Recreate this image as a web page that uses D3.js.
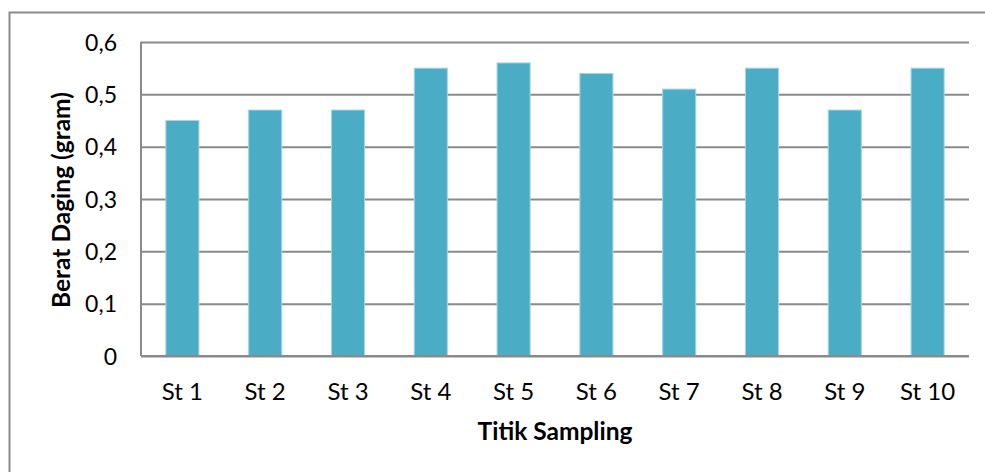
<!DOCTYPE html>
<html>
<head>
<meta charset="utf-8">
<script src="https://cdn.jsdelivr.net/npm/d3@7"></script>
<style>
  html, body { margin: 0; padding: 0; background: #fff; }
  svg { display: block; font-family: Lato, "Open Sans", sans-serif; }
</style>
</head>
<body>
<svg id="chart" width="985" height="472"></svg>
<script>
const categories = ["St 1", "St 2", "St 3", "St 4", "St 5", "St 6", "St 7", "St 8", "St 9", "St 10"];
const values = [0.45, 0.47, 0.47, 0.55, 0.56, 0.54, 0.51, 0.55, 0.47, 0.55];
const yTicks = [0, 0.1, 0.2, 0.3, 0.4, 0.5, 0.6];
const yTickLabels = ["0", "0,1", "0,2", "0,3", "0,4", "0,5", "0,6"];
const xTitle = "Titik Sampling";
const yTitle = "Berat Daging (gram)";

const svg = d3.select("#chart");
const W = 985, H = 472;
const plot = { left: 141, right: 969, top: 42, bottom: 356 };

// outer frame
svg.append("rect")
  .attr("x", 9.5).attr("y", 12.5)
  .attr("width", W + 20).attr("height", H + 20)
  .attr("fill", "#fff").attr("stroke", "#8c8c8c").attr("stroke-width", 2);

const x = d3.scaleBand().domain(categories)
  .range([plot.left, plot.right]).paddingInner(0.6).paddingOuter(0.3);
const y = d3.scaleLinear().domain([0, 0.6]).range([plot.bottom, plot.top]);

// gridlines
const yAxis = d3.axisLeft(y).tickValues(yTicks)
  .tickSize(-(plot.right - plot.left))
  .tickFormat((d, i) => yTickLabels[i]).tickPadding(24);
const gy = svg.append("g").attr("transform", `translate(${plot.left},0)`).call(yAxis);
gy.select(".domain").remove();
gy.selectAll(".tick line").attr("stroke", "#8a8a8a").attr("stroke-width", 2);
gy.selectAll(".tick text").attr("fill", "#000").attr("font-size", 23)
  .attr("font-family", "Lato, sans-serif").attr("dy", "0.36em");

// bars
svg.append("g").selectAll("rect").data(values).join("rect")
  .attr("x", (d, i) => x(categories[i]))
  .attr("width", x.bandwidth())
  .attr("y", d => y(d))
  .attr("height", d => y(0) - y(d))
  .attr("fill", "#4BACC6")
  .attr("stroke", "#a6d6e4").attr("stroke-width", 1);

// left axis line
svg.append("line")
  .attr("x1", plot.left).attr("x2", plot.left)
  .attr("y1", plot.top).attr("y2", plot.bottom)
  .attr("stroke", "#8a8a8a").attr("stroke-width", 2);

// x axis
const xAxis = d3.axisBottom(x).tickSize(0).tickPadding(27);
const gx = svg.append("g").attr("transform", `translate(0,${plot.bottom})`).call(xAxis);
gx.select(".domain").attr("stroke", "#8a8a8a").attr("stroke-width", 2)
  .attr("d", `M${plot.left},0H${plot.right}`);
gx.selectAll(".tick text").attr("fill", "#000").attr("font-size", 24)
  .attr("font-family", "Lato, sans-serif");

// titles
svg.append("text")
  .attr("x", (plot.left + plot.right) / 2).attr("y", 440)
  .attr("text-anchor", "middle").attr("font-size", 24.5).attr("font-weight", "bold")
  .attr("fill", "#000").text(xTitle);

svg.append("text")
  .attr("transform", `translate(70,${(plot.top + plot.bottom) / 2 + 1}) rotate(-90)`)
  .attr("text-anchor", "middle").attr("font-size", 24.5).attr("font-weight", "bold")
  .attr("fill", "#000").text(yTitle);
</script>
</body>
</html>
